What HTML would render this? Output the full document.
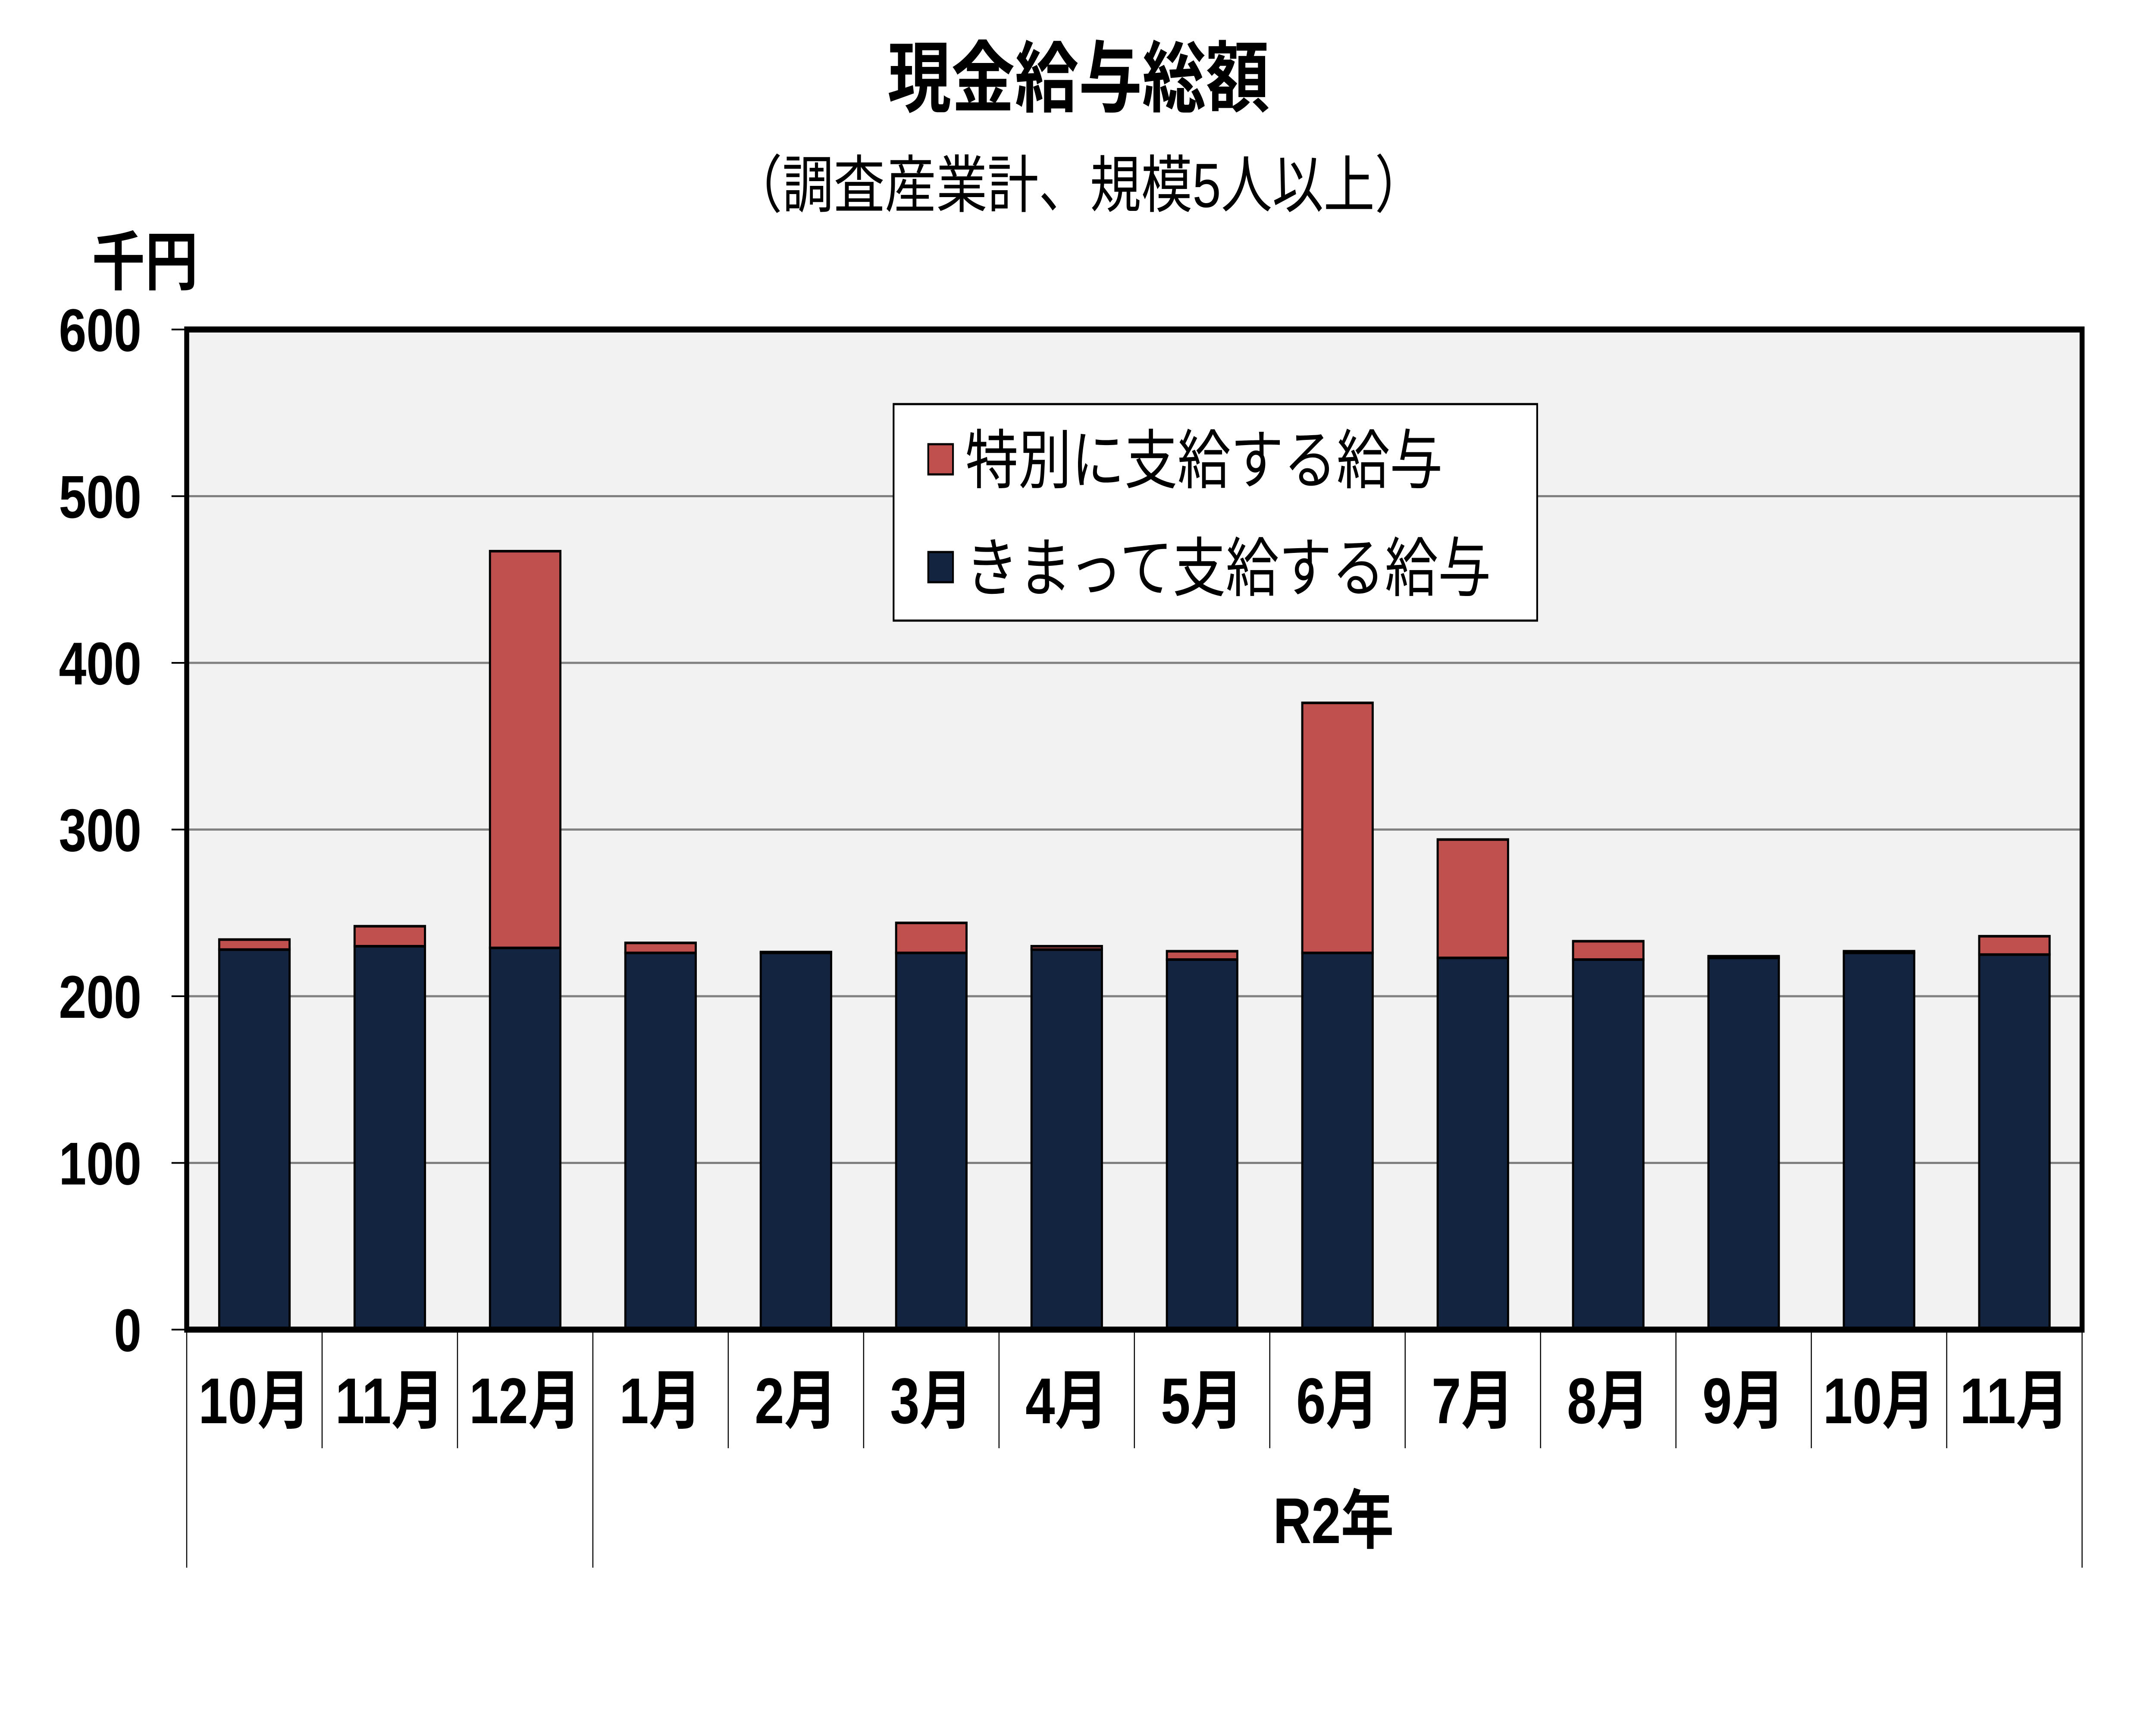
<!DOCTYPE html>
<html><head><meta charset="utf-8"><style>
html,body{margin:0;padding:0;background:#fff;overflow:hidden;width:100%;height:100%}
svg{display:block;width:100vw;height:100vh}
text{font-family:"Liberation Sans","Noto Sans CJK JP",sans-serif}
</style></head><body>
<svg id="chart" xmlns="http://www.w3.org/2000/svg" viewBox="0 0 6097 3972" preserveAspectRatio="none">
<rect x="0" y="0" width="6097" height="3972" fill="#fff"/>
<text x="3050" y="245" font-size="180" font-weight="bold" text-anchor="middle">現金給与総額</text>
<text x="3050" y="480" font-size="145" text-anchor="middle">（調査産業計、規模5人以上）</text>
<text x="410" y="660" font-size="150" font-weight="bold" text-anchor="middle">千円</text>
<rect x="528" y="764" width="5360" height="2319" fill="#f2f2f2"/>
<g id="grid"></g>
<g id="bars"></g>
<rect x="528" y="764" width="5360" height="2319" fill="none" stroke="#000" stroke-width="14"/>
<g id="xaxis"></g>
<text x="3771" y="3578" font-size="150" font-weight="bold" text-anchor="middle">R2年</text>
<g>
<rect x="2527" y="937" width="1820" height="502" fill="#fff" stroke="#000" stroke-width="5"/>
<rect x="2625" y="1030" width="70" height="70" fill="#c0504d" stroke="#000" stroke-width="5"/>
<text x="2730" y="1120" font-size="150">特別に支給する給与</text>
<rect x="2625" y="1280" width="70" height="70" fill="#12243f" stroke="#000" stroke-width="5"/>
<text x="2730" y="1370" font-size="150">きまって支給する給与</text>
</g>
</svg>
<script>
const categories = ["10月","11月","12月","1月","2月","3月","4月","5月","6月","7月","8月","9月","10月","11月"];
const regularPay = [228,230,229,226,226,226,228,222,226,223,222,223,226,225];
const bonusPay = [6,12,238,6,0.5,18,2,5,150,71,11,1,1,11];
const yTicks = [0,100,200,300,400,500,600];

const NS = "http://www.w3.org/2000/svg";
const plotL = 528, plotR = 5888, plotT = 764, plotB = 3083, yMax = 600;
const bandW = (plotR - plotL) / categories.length;
const barW = bandW * 0.52;
function yScale(v){ return plotB - v / yMax * (plotB - plotT); }
function xCenter(i){ return plotL + bandW * (i + 0.5); }
function mk(tag, attrs, parent){ const e = document.createElementNS(NS, tag); for (const k in attrs) e.setAttribute(k, attrs[k]); parent.appendChild(e); return e; }

const grid = document.getElementById('grid');
yTicks.forEach(t => {
  const y = yScale(t);
  if (t > 0 && t < yMax) {
    const gl = mk('line', {x1: plotL, x2: plotR, y1: y, y2: y, stroke: '#808080', 'stroke-width': 5}, grid);
    
    
  }
  const tk = mk('line', {x1: 485, x2: plotL, y1: y, y2: y, stroke: '#000', 'stroke-width': 4}, grid);
  
  
  const lb = mk('text', {x: 400, y: y + 50, 'font-size': 140, 'font-weight': 'bold', 'text-anchor': 'end'}, grid);
  lb.textContent = t;
  
  
});

const bars = document.getElementById('bars');
categories.forEach((c, i) => {
  const x = xCenter(i) - barW / 2;
  const r = regularPay[i], b = bonusPay[i];
  const rb = mk('rect', {x: x, y: yScale(r), width: barW, height: yScale(0) - yScale(r), fill: '#12243f', stroke: '#000', 'stroke-width': 6}, bars);
  
  
  const bb = mk('rect', {x: x, y: yScale(r + b), width: barW, height: yScale(r) - yScale(r + b), fill: '#c0504d', stroke: '#000', 'stroke-width': 6}, bars);
  
  
});

const xa = document.getElementById('xaxis');
categories.forEach((c, i) => {
  const lb = mk('text', {x: xCenter(i), y: 3300, 'font-size': 150, 'font-weight': 'bold', 'text-anchor': 'middle'}, xa);
  lb.textContent = c;
  
  
});
for (let i = 0; i <= categories.length; i++) {
  const x = plotL + bandW * i;
  const long = (i === 0 || i === 3 || i === categories.length);
  const dl = mk('line', {x1: x, x2: x, y1: plotB, y2: long ? 3635 : 3358, stroke: '#000', 'stroke-width': 3}, xa);
  
  
}
</script>
</body></html>
